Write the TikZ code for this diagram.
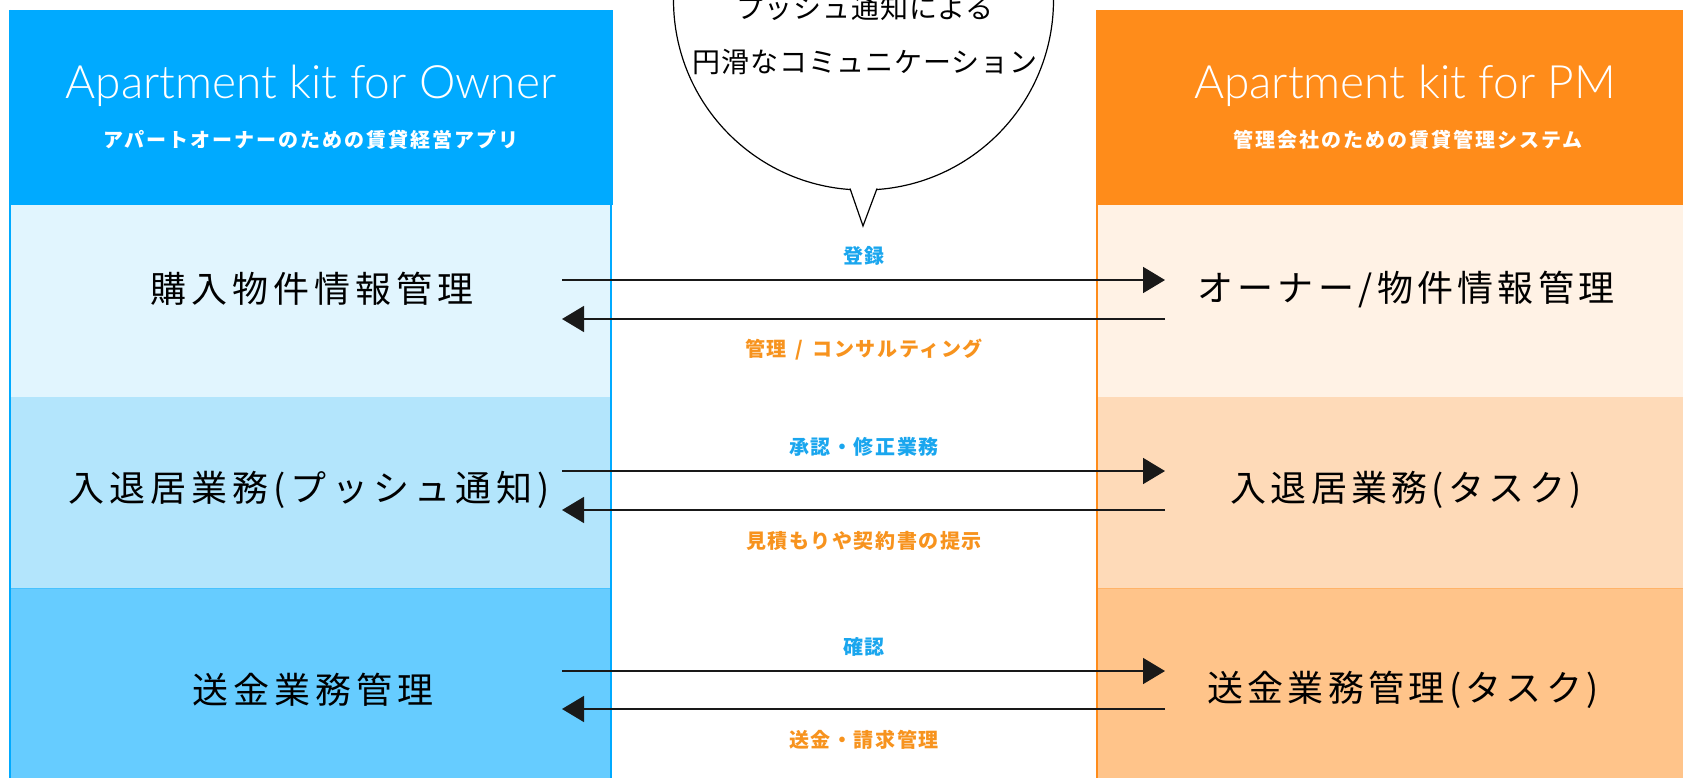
\documentclass[tikz,border=0pt]{standalone}
\usepackage{fontspec}
\usetikzlibrary{arrows.meta}
\setmainfont{Noto Sans CJK JP}
\newfontfamily\lato{Lato Light}
\newfontfamily\jpL{Noto Sans CJK JP}[LetterSpace=14]
\newfontfamily\jpR{Noto Sans CJK JP}[LetterSpace=12]
\newfontfamily\jpB{Noto Sans CJK JP}[LetterSpace=8]
\newfontfamily\jpS{Noto Sans CJK JP}[LetterSpace=10]
\newfontfamily\jpM{Noto Sans CJK JP}[LetterSpace=3]
\definecolor{bh}{RGB}{0,170,255}
\definecolor{bl1}{RGB}{225,245,254}
\definecolor{bl2}{RGB}{179,229,252}
\definecolor{bl3}{RGB}{102,204,255}
\definecolor{oh}{RGB}{255,140,26}
\definecolor{or1}{RGB}{255,242,229}
\definecolor{or2}{RGB}{254,218,184}
\definecolor{or3}{RGB}{255,196,138}
\definecolor{tb}{RGB}{26,166,238}
\definecolor{to}{RGB}{247,147,30}
\begin{document}
\begin{tikzpicture}[x=1pt,y=-1pt,
  lbl/.style={font=\jpL\fontsize{36}{40}\selectfont, text=black, inner sep=0pt},
  rlbl/.style={font=\jpR\fontsize{36}{40}\selectfont, text=black, inner sep=0pt},
  ttl/.style={font=\lato\fontsize{46}{50}\selectfont, text=white, inner sep=0pt, anchor=base},
  subt/.style={font=\jpS\bfseries\fontsize{20}{24}\selectfont, text=white, inner sep=0pt},
  midl/.style={font=\jpB\bfseries\fontsize{20}{24}\selectfont, inner sep=0pt},
  flow/.style={draw=black!90, line width=1.6pt, -{Triangle[length=22pt,width=26pt]}},
  bub/.style={font=\jpM\fontsize{28}{32}\selectfont, inner sep=0pt}
]
\useasboundingbox (0,0) rectangle (1683,778);
\clip (0,0) rectangle (1683,778);
% left column
\fill[bl1] (10,205) rectangle (611,397);
\fill[bl2] (10,397) rectangle (611,588);
\fill[bl3] (10,588) rectangle (611,778);
\fill[bh] (9,10) rectangle (612.5,205);
\draw[bl3!70!bh, line width=1pt] (10,588) -- (611,588);
\draw[bh, line width=2.2pt] (10,10) -- (10,778);
\draw[bh, line width=2.8pt] (611,10) -- (611,778);
% right column
\fill[or1] (1097,205) rectangle (1683,397);
\fill[or2] (1097,397) rectangle (1683,588);
\fill[or3] (1097,588) rectangle (1683,778);
\fill[oh] (1095.5,10) rectangle (1683,205);
\draw[or3!70!oh, line width=1pt] (1097,588) -- (1683,588);
\draw[oh, line width=2.8pt] (1097,10) -- (1097,778);
% headers
\node[ttl] (tL) at (311,99) {Apartment kit for Owner};
\node[subt] (sL) at (311,140) {アパートオーナーのための賃貸経営アプリ};
\node[ttl] (tR) at (1405,99) {Apartment kit for PM};
\node[subt] (sR) at (1408,140) {管理会社のための賃貸管理システム};
% row labels
\node[lbl] (a1) at (312,289) {購入物件情報管理};
\node[lbl] (a2) at (309,490) {入退居業務(プッシュ通知)};
\node[lbl] (a3) at (313,690) {送金業務管理};
\node[rlbl] (b1) at (1406,290) {オーナー/物件情報管理};
\node[rlbl] (b2) at (1406,490) {入退居業務(タスク)};
\node[rlbl] (b3) at (1403,690) {送金業務管理(タスク)};
% arrows
\coordinate (p1) at (562,280); \coordinate (q1) at (1165,280);
\coordinate (p1b) at (562,319); \coordinate (q1b) at (1165,319);
\coordinate (p2) at (562,471); \coordinate (q2) at (1165,471);
\coordinate (p2b) at (562,510); \coordinate (q2b) at (1165,510);
\coordinate (p3) at (562,671); \coordinate (q3) at (1165,671);
\coordinate (p3b) at (562,709); \coordinate (q3b) at (1165,709);
\draw[flow] (p1) -- (q1);
\draw[flow] (q1b) -- (p1b);
\draw[flow] (p2) -- (q2);
\draw[flow] (q2b) -- (p2b);
\draw[flow] (p3) -- (q3);
\draw[flow] (q3b) -- (p3b);
% arrow labels
\node[midl, text=to] (n1) at (864,350) {管理\hspace{9pt}/\hspace{9pt}コンサルティング};
\node[midl, text=tb] (m1) at (864,256) {登録};
\node[midl, text=tb] (m2) at (864,447) {承認・修正業務};
\node[midl, text=to] (n2) at (864,541) {見積もりや契約書の提示};
\node[midl, text=tb] (m3) at (864,647) {確認};
\node[midl, text=to] (n3) at (864,740) {送金・請求管理};
% speech bubble
\draw[line width=1.2pt, fill=white] (863.5,0) circle[radius=190pt];
\fill[white] (848.5,185) -- (863,226) -- (878.5,185) -- cycle;
\draw[line width=1.2pt, line join=miter] (850,188.5) -- (863,226) -- (877,188.5);
\node[bub] (c1) at (865,8) {プッシュ通知による};
\node[bub] (c2) at (865,62) {円滑なコミュニケーション};
\end{tikzpicture}
\end{document}
